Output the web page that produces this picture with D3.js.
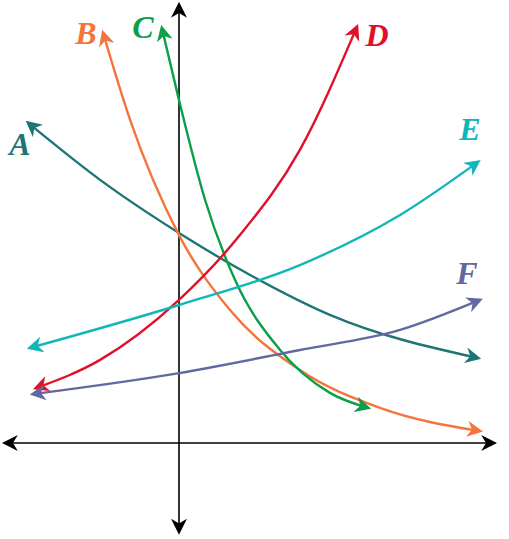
<!DOCTYPE html>
<html><head><meta charset="utf-8">
<script src="https://cdn.jsdelivr.net/npm/d3@7"></script>
<style>body{margin:0;background:#fff}</style></head>
<body><svg id="c" width="509" height="539"></svg>
<script>
const names=["A","B","C","D","E","F"];
const colors=["#1e7576","#f4743b","#0a9f48","#e0102a","#11b6b6","#6269a0"];
const ptsA=[[-5.03,10.67],[-2.63,8.77],[0,7.0],[2.37,5.6],[5.03,4.27],[9.97,2.83]];
const ptsB=[[-2.53,13.67],[-1.63,10.77],[0,6.93],[1.7,4.43],[4.03,2.43],[6.7,1.17],[10.03,0.4]];
const ptsC=[[-0.57,13.83],[0,11.43],[0.87,8.1],[1.87,5.43],[3.37,3.1],[5.03,1.67],[6.3,1.17]];
const ptsD=[[-4.77,1.83],[-2.63,2.77],[0,4.77],[2.03,6.93],[4.03,9.77],[5.93,13.87]];
const ptsE=[[-4.97,3.17],[0,4.6],[4.03,5.93],[7.37,7.6],[9.97,9.37]];
const ptsF=[[-4.87,1.63],[0,2.33],[4.03,3.1],[7.37,3.77],[10.03,4.77]];
const series=[ptsA,ptsB,ptsC,ptsD,ptsE,ptsF];
const labelPos=[[-5.3,9.6],[-3.1,13.3],[-1.2,13.5],[6.6,13.25],[9.7,10.1],[9.6,5.3]];
const x=d3.scaleLinear().domain([0,1]).range([179,209]);
const y=d3.scaleLinear().domain([0,1]).range([443,413]);
const svg=d3.select("#c");
const defs=svg.append("defs");
function marker(id,col){defs.append("marker").attr("id",id).attr("viewBox","0 0 10 10").attr("refX",8).attr("refY",5)
 .attr("markerUnits","userSpaceOnUse").attr("orient","auto-start-reverse")
 .attr("markerWidth",16).attr("markerHeight",16)
 .append("path").attr("d","M0,0 L10,5 L0,10 L3,5 Z").attr("fill",col);}
marker("mk",'#000');
colors.forEach((c,i)=>marker("m"+i,c));
svg.append("line").attr("x1",x(-5.8)).attr("x2",x(10.5)).attr("y1",y(0)).attr("y2",y(0)).attr("stroke","#000").attr("stroke-width",1.6)
 .attr("marker-start","url(#mk)").attr("marker-end","url(#mk)");
svg.append("line").attr("x1",x(0)).attr("x2",x(0)).attr("y1",y(-2.95)).attr("y2",y(14.6)).attr("stroke","#000").attr("stroke-width",1.6)
 .attr("marker-start","url(#mk)").attr("marker-end","url(#mk)");
const line=d3.line().x(d=>x(d[0])).y(d=>y(d[1])).curve(d3.curveMonotoneX);
series.forEach((s,i)=>{
 svg.append("path").attr("d",line(s)).attr("fill","none").attr("stroke",colors[i]).attr("stroke-width",2.4)
  .attr("marker-start","url(#m"+i+")").attr("marker-end","url(#m"+i+")");
 svg.append("text").attr("x",x(labelPos[i][0])).attr("y",y(labelPos[i][1])).attr("text-anchor","middle")
  .attr("font-family","Liberation Serif").attr("font-style","italic").attr("font-weight","bold").attr("font-size",32)
  .attr("fill",colors[i]).text(names[i]);
});
</script></body></html>
